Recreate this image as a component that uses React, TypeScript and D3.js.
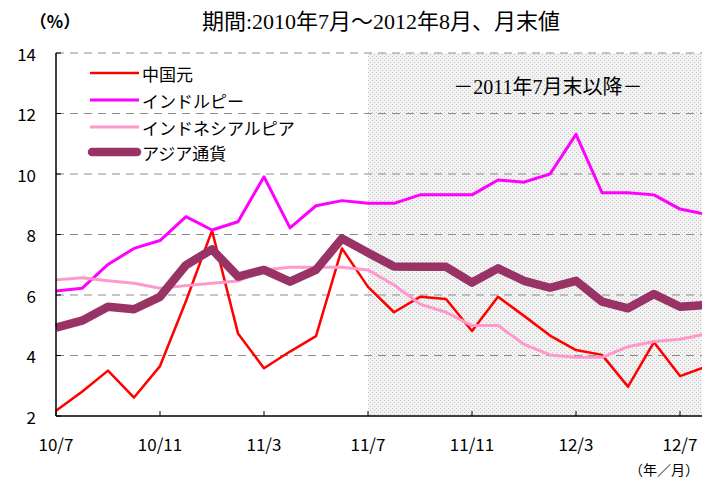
import React, { useEffect, useRef } from 'react';
import * as d3 from 'd3';

// months 2010/7 .. 2012/8 (month-end values)
const months = [
  '10/7', '10/8', '10/9', '10/10', '10/11', '10/12',
  '11/1', '11/2', '11/3', '11/4', '11/5', '11/6', '11/7', '11/8', '11/9', '11/10', '11/11', '11/12',
  '12/1', '12/2', '12/3', '12/4', '12/5', '12/6', '12/7', '12/8',
];
const tickLabels = ['10/7', '10/11', '11/3', '11/7', '11/11', '12/3', '12/7'];
const yTicks = [2, 4, 6, 8, 10, 12, 14];

const seriesNames = ['中国元', 'インドルピー', 'インドネシアルピア', 'アジア通貨'];
const cny = [2.17, 2.8, 3.5, 2.61, 3.65, 5.8, 8.13, 4.73, 3.58, 4.13, 4.64, 7.54, 6.27, 5.43, 5.94, 5.87, 4.81, 5.94, 5.31, 4.66, 4.18, 4.02, 2.97, 4.44, 3.32, 3.63];
const inr = [6.13, 6.22, 7.01, 7.54, 7.8, 8.59, 8.15, 8.42, 9.91, 8.22, 8.95, 9.12, 9.03, 9.03, 9.31, 9.31, 9.31, 9.8, 9.73, 10.0, 11.31, 9.38, 9.38, 9.31, 8.84, 8.67];
const idr = [6.5, 6.57, 6.47, 6.39, 6.22, 6.31, 6.39, 6.46, 6.83, 6.92, 6.92, 6.92, 6.83, 6.33, 5.7, 5.43, 4.99, 4.99, 4.37, 4.02, 3.94, 3.94, 4.29, 4.46, 4.54, 4.71];
const asia = [4.92, 5.15, 5.61, 5.53, 5.94, 6.99, 7.51, 6.61, 6.83, 6.44, 6.83, 7.87, 7.4, 6.94, 6.93, 6.93, 6.41, 6.88, 6.47, 6.24, 6.47, 5.78, 5.56, 6.03, 5.61, 5.67];

const shadeFrom = '11/7';

const W = 702;
const H = 479;

const App: React.FC = () => {
  const svgRef = useRef<SVGSVGElement>(null);

  useEffect(() => {
    if (!svgRef.current) return;
    const svg = d3.select(svgRef.current);
    svg.selectAll('*').remove();

    const left = 56;
    const top = 53;
    const bottom = 416;
    const step = 26;

    const x = d3.scalePoint<string>()
      .domain(months)
      .range([left, left + step * (months.length - 1)]);
    const y = d3.scaleLinear().domain([2, 14]).range([bottom, top]);

    const sans = '"Noto Sans CJK JP", "DejaVu Sans", sans-serif';
    const serif = '"Liberation Serif", "Noto Sans CJK JP", serif';

    // dotted pattern for shaded period
    const defs = svg.append('defs');
    const pat = defs.append('pattern')
      .attr('id', 'dots')
      .attr('patternUnits', 'userSpaceOnUse')
      .attr('width', 4)
      .attr('height', 4);
    pat.append('rect').attr('width', 4).attr('height', 4).attr('fill', '#f2f2f2');
    pat.append('rect').attr('x', 0).attr('y', 0).attr('width', 1).attr('height', 1).attr('fill', '#c4c4c4');
    pat.append('rect').attr('x', 2).attr('y', 2).attr('width', 1).attr('height', 1).attr('fill', '#c4c4c4');

    svg.append('rect')
      .attr('x', x(shadeFrom)!)
      .attr('y', y(14))
      .attr('width', W - x(shadeFrom)!)
      .attr('height', y(2) - y(14))
      .attr('fill', 'url(#dots)');

    // grid lines
    yTicks.filter(t => t > 2).forEach(t => {
      svg.append('line')
        .attr('x1', left).attr('x2', W)
        .attr('y1', y(t)).attr('y2', y(t))
        .style('stroke', '#8c8c8c')
        .style('stroke-width', 1)
        .style('stroke-dasharray', '8,6');
    });

    // series
    const line = d3.line<number>()
      .x((_, i) => x(months[i])!)
      .y(d => y(d));

    const series = [
      { data: cny, color: '#ff0000', width: 2.5 },
      { data: inr, color: '#ff00ff', width: 3 },
      { data: idr, color: '#ff99cc', width: 3 },
      { data: asia, color: '#993366', width: 8.5 },
    ];

    series.forEach(s => {
      svg.append('path')
        .datum(s.data)
        .attr('d', line)
        .style('fill', 'none')
        .style('stroke', s.color)
        .style('stroke-width', s.width)
        .style('stroke-linejoin', 'round');
    });

    // axes
    svg.append('line')
      .attr('x1', left).attr('x2', left)
      .attr('y1', top).attr('y2', bottom)
      .style('stroke', '#000').style('stroke-width', 1.5);
    svg.append('line')
      .attr('x1', left).attr('x2', W)
      .attr('y1', bottom).attr('y2', bottom)
      .style('stroke', '#000').style('stroke-width', 1.5);

    yTicks.forEach(t => {
      svg.append('line')
        .attr('x1', left).attr('x2', left + 5)
        .attr('y1', y(t)).attr('y2', y(t))
        .style('stroke', '#000').style('stroke-width', 1);
      svg.append('text')
        .attr('x', 36)
        .attr('y', y(t))
        .attr('text-anchor', 'end')
        .attr('dominant-baseline', 'central')
        .style('font-family', sans)
        .style('font-size', '17px')
        .text(t);
    });

    tickLabels.forEach(m => {
      svg.append('line')
        .attr('x1', x(m)!).attr('x2', x(m)!)
        .attr('y1', bottom).attr('y2', bottom - 5)
        .style('stroke', '#000').style('stroke-width', 1);
      svg.append('text')
        .attr('x', x(m)!)
        .attr('y', 443)
        .attr('text-anchor', 'middle')
        .attr('dominant-baseline', 'central')
        .style('font-family', sans)
        .style('font-size', '17px')
        .text(m);
    });

    // titles
    svg.append('text')
      .attr('x', 381).attr('y', 21)
      .attr('text-anchor', 'middle')
      .attr('dominant-baseline', 'central')
      .style('font-family', serif)
      .style('font-size', '22px')
      .text('期間:2010年7月～2012年8月、月末値');

    svg.append('text')
      .attr('x', 55).attr('y', 20)
      .attr('text-anchor', 'middle')
      .attr('dominant-baseline', 'central')
      .style('font-family', sans)
      .style('font-size', '17px')
      .style('font-weight', 'bold')
      .text('（%）');

    svg.append('text')
      .attr('x', 699).attr('y', 469)
      .attr('text-anchor', 'end')
      .attr('dominant-baseline', 'central')
      .style('font-family', sans)
      .style('font-size', '14px')
      .text('（年／月）');

    svg.append('text')
      .attr('x', 548).attr('y', 87)
      .attr('text-anchor', 'middle')
      .attr('dominant-baseline', 'central')
      .style('font-family', serif)
      .style('font-size', '20px')
      .text('－2011年7月末以降－');

    // legend
    const legendY = [73, 100, 127, 152];
    series.forEach((s, i) => {
      svg.append('line')
        .attr('x1', i === 3 ? 92 : 90).attr('x2', i === 3 ? 137 : 139)
        .attr('y1', legendY[i]).attr('y2', legendY[i])
        .style('stroke', s.color)
        .style('stroke-width', s.width)
        .style('stroke-linecap', i === 3 ? 'round' : 'butt');
      svg.append('text')
        .attr('x', 142)
        .attr('y', legendY[i])
        .attr('dominant-baseline', 'central')
        .style('font-family', sans)
        .style('font-size', '17px')
        .text(seriesNames[i]);
    });
  }, []);

  return (
    <svg
      ref={svgRef}
      width={W}
      height={H}
      style={{ position: 'absolute', left: 0, top: 0, background: '#fff' }}
    />
  );
};

export default App;
